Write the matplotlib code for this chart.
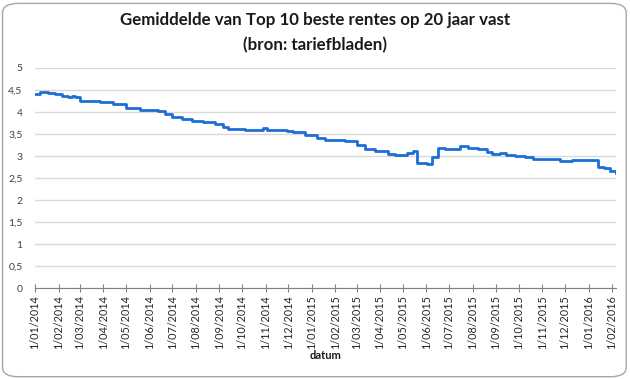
import datetime as dt
import matplotlib
matplotlib.use("Agg")
import matplotlib.pyplot as plt
from matplotlib.patches import FancyBboxPatch
from matplotlib.ticker import FuncFormatter

plt.rcParams['font.family'] = ['Lato', 'DejaVu Sans']

# change points of the average rate (step series)
dates = [
    "2014-01-01", "2014-01-08", "2014-01-18", "2014-01-27", "2014-02-06",
    "2014-02-13", "2014-02-19", "2014-02-23", "2014-03-01", "2014-03-09",
    "2014-03-28", "2014-04-14", "2014-05-01", "2014-05-19", "2014-06-02",
    "2014-06-12", "2014-06-21", "2014-07-01", "2014-07-14", "2014-07-27",
    "2014-08-10", "2014-08-26", "2014-09-06", "2014-09-12", "2014-10-05",
    "2014-10-29", "2014-11-03", "2014-11-29", "2014-12-07", "2014-12-23",
    "2015-01-08", "2015-01-18", "2015-02-14", "2015-03-02", "2015-03-12",
    "2015-03-25", "2015-04-11", "2015-04-21", "2015-05-06", "2015-05-14",
    "2015-05-20", "2015-06-02", "2015-06-08", "2015-06-16", "2015-06-26",
    "2015-07-15", "2015-07-26", "2015-08-08", "2015-08-20", "2015-08-26",
    "2015-09-06", "2015-09-14", "2015-09-26", "2015-10-09", "2015-10-20",
    "2015-11-11", "2015-11-24", "2015-12-10", "2016-01-13", "2016-01-21",
    "2016-01-29", "2016-02-06",
]
rates = [
    4.42, 4.45, 4.44, 4.40, 4.36,
    4.33, 4.37, 4.33, 4.26, 4.24,
    4.23, 4.19, 4.08, 4.05, 4.05,
    4.03, 3.95, 3.88, 3.85, 3.80,
    3.77, 3.73, 3.67, 3.62, 3.60,
    3.64, 3.59, 3.57, 3.55, 3.47,
    3.40, 3.36, 3.34, 3.25, 3.17,
    3.12, 3.05, 3.02, 3.06, 3.12,
    2.85, 2.81, 2.97, 3.18, 3.15,
    3.23, 3.18, 3.15, 3.10, 3.05,
    3.07, 3.03, 2.99, 2.97, 2.93,
    2.93, 2.88, 2.90, 2.76, 2.72,
    2.67, 2.62,
]

x = [dt.datetime.strptime(d, "%Y-%m-%d") for d in dates]
month_ticks = [dt.datetime(2014 + (i // 12), i % 12 + 1, 1) for i in range(26)]
tick_labels = [f"{d.day}/{d.month:02d}/{d.year}" for d in month_ticks]

fig = plt.figure(figsize=(6.3, 3.79), dpi=100)
fig.patches.append(FancyBboxPatch((0.004, 0.006), 0.99, 0.985,
                                  boxstyle="round,pad=0,rounding_size=0.025",
                                  transform=fig.transFigure, fill=False,
                                  edgecolor="#a6a6a6", linewidth=1.0))

ax = fig.add_axes([0.0556, 0.240, 0.922, 0.5806])
ax.plot(x, rates, drawstyle="steps-post", color="#1c6fd4", linewidth=2.0)

ax.set_ylim(0, 5)
ax.set_yticks([i * 0.5 for i in range(11)])
ax.yaxis.set_major_formatter(FuncFormatter(lambda v, p: f"{v:g}".replace(".", ",")))
ax.set_xlim(x[0], x[-1])
ax.set_xticks(month_ticks)
ax.set_xticklabels(tick_labels, rotation=90, fontsize=7.8, color="#262626")

ax.grid(axis="y", color="#d9d9d9", linewidth=1)
ax.set_axisbelow(True)
for s in ["left", "right", "top"]:
    ax.spines[s].set_visible(False)
ax.spines["bottom"].set_color("#808080")
ax.tick_params(axis="y", length=0, labelsize=7.5, labelcolor="#404040", pad=9)
ax.tick_params(axis="x", direction="inout", length=6, color="#808080", pad=2)

ax.set_xlabel("datum", fontsize=8, fontweight="bold", color="#1a1a1a", labelpad=1)
fig.text(0.5, 0.947, "Gemiddelde van Top 10 beste rentes op 20 jaar vast",
         ha="center", va="center", fontsize=12.2, fontweight="bold", color="#1a1a1a")
fig.text(0.5, 0.88, "(bron: tariefbladen)",
         ha="center", va="center", fontsize=12.2, fontweight="bold", color="#1a1a1a")

fig.savefig("out.png", dpi=100)
